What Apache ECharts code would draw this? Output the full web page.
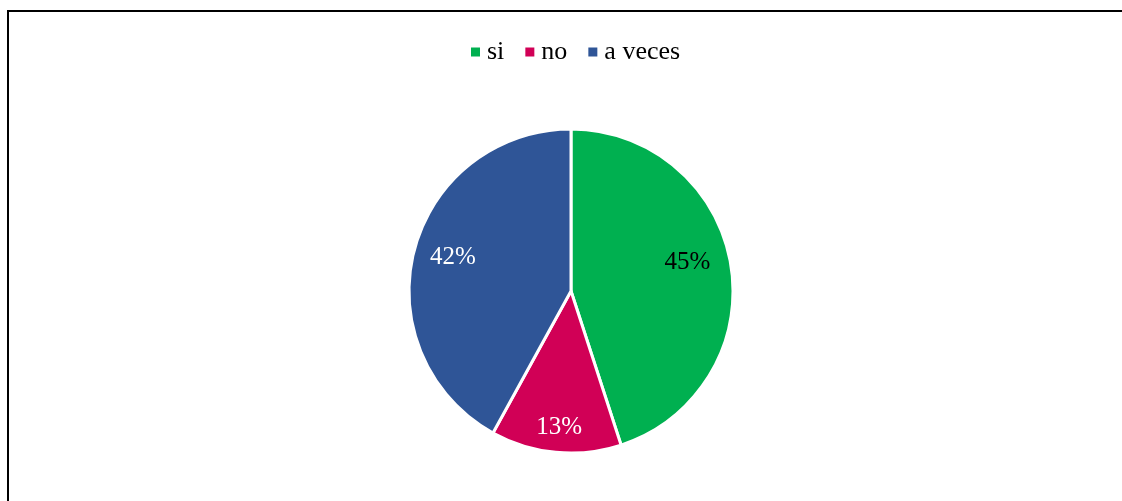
<!DOCTYPE html>
<html>
<head>
<meta charset="utf-8">
<script src="https://cdn.jsdelivr.net/npm/echarts@6/dist/echarts.min.js"></script>
<style>
  html, body { margin: 0; padding: 0; background: #fff; }
  #chart { width: 1122px; height: 501px; }
</style>
</head>
<body>
<div id="chart"></div>
<script>
// Responses to the survey question
const categories = ['si', 'no', 'a veces'];
const values = [45, 13, 42];
const colors = ['#00B050', '#D10056', '#2F5597'];
const labelColors = ['#000000', '#ffffff', '#ffffff'];

// small nudges of the percentage labels toward their usual placement
const labelNudges = [[-9, -9], [0, 10], [5, -2]];

const serif = '"Liberation Serif", "Times New Roman", serif';

const sliceData = categories.map((name, i) => ({
  name: name,
  value: values[i],
  itemStyle: { color: colors[i] }
}));

const labelData = categories.map((name, i) => ({
  name: name,
  value: values[i],
  label: { color: labelColors[i] }
}));

const chart = echarts.init(document.getElementById('chart'), null, { renderer: 'canvas' });
chart.setOption({
  backgroundColor: '#ffffff',
  animation: false,
  graphic: [{
    type: 'rect',
    silent: true,
    shape: { x: 8, y: 11, width: 1300, height: 700 },
    style: { fill: 'none', stroke: '#000000', lineWidth: 2 }
  }],
  legend: {
    data: categories,
    top: 34,
    left: 466,
    icon: 'rect',
    itemWidth: 9,
    itemHeight: 9,
    itemGap: 21,
    itemStyle: { borderWidth: 0 },
    textStyle: { fontFamily: serif, fontSize: 26, color: '#000', padding: [0, 0, 0, 2] }
  },
  series: [
    {
      type: 'pie',
      center: [571, 291],
      radius: [0, 162],
      startAngle: 90,
      clockwise: true,
      label: { show: false },
      labelLine: { show: false },
      itemStyle: { borderColor: '#ffffff', borderWidth: 3 },
      emphasis: { disabled: true },
      data: sliceData
    },
    {
      // transparent ring that carries the percentage labels
      type: 'pie',
      center: [571, 291],
      radius: [88, 160],
      startAngle: 90,
      clockwise: true,
      silent: true,
      legendHoverLink: false,
      itemStyle: { color: 'rgba(0,0,0,0)' },
      label: {
        show: true,
        position: 'inside',
        formatter: '{d}%',
        fontFamily: serif,
        fontSize: 25
      },
      labelLayout: function (params) {
        const n = labelNudges[params.dataIndex];
        return { dx: n[0], dy: n[1] };
      },
      labelLine: { show: false },
      emphasis: { disabled: true },
      data: labelData
    }
  ]
});
</script>
</body>
</html>
